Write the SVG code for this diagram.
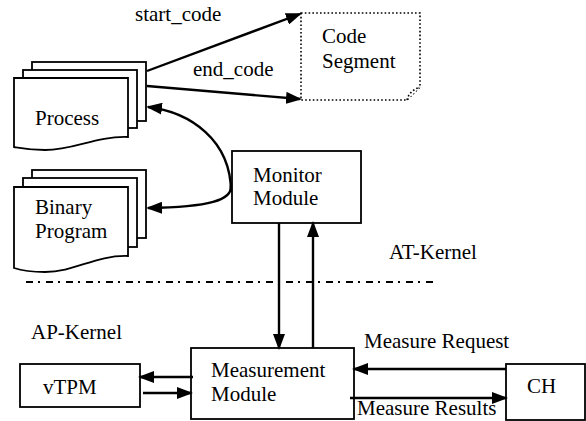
<svg xmlns="http://www.w3.org/2000/svg" width="586" height="421" viewBox="0 0 586 421" font-family="'Liberation Serif', 'Times New Roman', Tinos, 'DejaVu Serif', serif">
  <style>
    text { font-family: "Liberation Serif", "Times New Roman", Tinos, "DejaVu Serif", serif; font-size: 21px; fill: #000; }
    .box { fill: #fff; stroke: #000; stroke-width: 1.8; }
    .page { fill: #fff; stroke: #000; stroke-width: 1.8; stroke-linejoin: miter; }
    .dotted { fill: #fff; stroke: #000; stroke-width: 1.6; stroke-dasharray: 1.6 2.2; }
    .conn { fill: none; stroke: #000; stroke-width: 2.4; }
    .arrow { marker-end: url(#head); }
    .divider { fill: none; stroke: #000; stroke-width: 1.8; stroke-dasharray: 7 5 2 6; }
  </style>
  <defs>
    <marker id="head" markerUnits="userSpaceOnUse" markerWidth="16" markerHeight="12" refX="14" refY="6" orient="auto">
      <path d="M0,0 L16,6 L0,12 z" fill="#000"/>
    </marker>
  </defs>

  <!-- stacked document: Process -->
  <g id="process">
    <rect class="page" x="32" y="62" width="114" height="59"/>
    <rect class="page" x="23" y="70" width="114" height="58"/>
    <path class="page" d="M14,78 H128 V137 C95,136 75,150 45,150 C30,150 20,148 14,147 Z"/>
    <text x="35" y="125">Process</text>
  </g>

  <!-- stacked document: Binary Program -->
  <g id="binary-program">
    <rect class="page" x="32" y="170" width="114" height="68"/>
    <rect class="page" x="23" y="178" width="114" height="69"/>
    <path class="page" d="M14,187 H128 V256 C95,255 75,272 45,272 C30,272 20,270 14,268 Z"/>
    <text x="35" y="214">Binary</text>
    <text x="35" y="238">Program</text>
  </g>

  <!-- code segment (dotted outline with folded corner) -->
  <g id="code-segment">
    <path class="dotted" d="M301,13 H420 V87 L407,100 H301 Z"/>
    <path class="dotted" d="M407,100 Q409,91 420,87" fill="none"/>
    <text x="322" y="43">Code</text>
    <text x="322" y="68">Segment</text>
  </g>

  <g id="monitor-module">
    <rect class="box" x="232" y="151" width="129" height="72"/>
    <text x="253" y="182">Monitor</text>
    <text x="253" y="205">Module</text>
  </g>

  <g id="measurement-module">
    <rect class="box" x="191" y="348" width="163" height="71"/>
    <text x="211" y="377">Measurement</text>
    <text x="211" y="401">Module</text>
  </g>

  <g id="vtpm">
    <rect class="box" x="20" y="364" width="120" height="43"/>
    <text x="43" y="394">vTPM</text>
  </g>

  <g id="ch">
    <rect class="box" x="506" y="364" width="79" height="56"/>
    <text x="527" y="393">CH</text>
  </g>

  <!-- kernel boundary -->
  <g id="kernel-boundary">
    <line class="divider" x1="26" y1="282" x2="434" y2="282"/>
    <text x="389" y="259">AT-Kernel</text>
    <text x="31" y="339">AP-Kernel</text>
  </g>

  <g id="connectors">
    <line class="conn arrow" x1="147" y1="71" x2="300" y2="14"/>
    <text x="135" y="21">start_code</text>
    <line class="conn arrow" x1="147" y1="86" x2="300" y2="99"/>
    <text x="193" y="76">end_code</text>

    <path class="conn arrow" d="M231,192 C231,140 190,112 148,107"/>
    <path class="conn arrow" d="M231,186 C232,200 210,207 148,208"/>

    <line class="conn arrow" x1="279" y1="223" x2="279" y2="348"/>
    <line class="conn arrow" x1="313" y1="348" x2="313" y2="223"/>

    <line class="conn arrow" x1="193" y1="377" x2="140" y2="377"/>
    <line class="conn arrow" x1="143" y1="393" x2="191" y2="393"/>

    <line class="conn arrow" x1="506" y1="369" x2="354" y2="369"/>
    <text x="364" y="348">Measure Request</text>
    <line class="conn arrow" x1="350" y1="398" x2="506" y2="398"/>
    <text x="357" y="415">Measure Results</text>
  </g>
</svg>
